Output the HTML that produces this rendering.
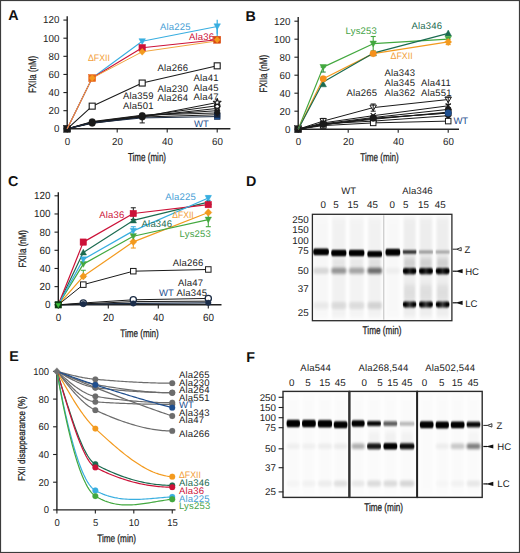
<!DOCTYPE html>
<html><head><meta charset="utf-8"><style>
html,body{margin:0;padding:0;background:#fff;}
body{width:520px;height:553px;overflow:hidden;}
svg{display:block;font-family:"Liberation Sans", sans-serif;text-rendering:geometricPrecision;}
</style></head><body>
<svg width="520" height="553" viewBox="0 0 520 553">
<rect x="0" y="0" width="520" height="553" fill="#fff"/>
<text x="8.30" y="20.20" font-size="14.3" fill="#111" font-weight="bold" >A</text>
<text x="245.50" y="20.50" font-size="14.3" fill="#111" font-weight="bold" >B</text>
<text x="8.00" y="186.20" font-size="14.3" fill="#111" font-weight="bold" >C</text>
<text x="246.00" y="186.20" font-size="14.3" fill="#111" font-weight="bold" >D</text>
<text x="9.30" y="361.20" font-size="14.3" fill="#111" font-weight="bold" >E</text>
<text x="246.30" y="362.20" font-size="14.3" fill="#111" font-weight="bold" >F</text>
<line x1="67.20" y1="16.30" x2="67.20" y2="128.80" stroke="#222" stroke-width="1.4" />
<line x1="63.40" y1="128.80" x2="67.20" y2="128.80" stroke="#222" stroke-width="1.1" />
<text x="59.40" y="132.20" font-size="10.192000000000002" fill="#222" text-anchor="end" textLength="5.44" lengthAdjust="spacingAndGlyphs" >0</text>
<line x1="63.40" y1="110.68" x2="67.20" y2="110.68" stroke="#222" stroke-width="1.1" />
<text x="59.40" y="114.08" font-size="10.192000000000002" fill="#222" text-anchor="end" textLength="10.88" lengthAdjust="spacingAndGlyphs" >20</text>
<line x1="63.40" y1="92.56" x2="67.20" y2="92.56" stroke="#222" stroke-width="1.1" />
<text x="59.40" y="95.96" font-size="10.192000000000002" fill="#222" text-anchor="end" textLength="10.88" lengthAdjust="spacingAndGlyphs" >40</text>
<line x1="63.40" y1="74.44" x2="67.20" y2="74.44" stroke="#222" stroke-width="1.1" />
<text x="59.40" y="77.84" font-size="10.192000000000002" fill="#222" text-anchor="end" textLength="10.88" lengthAdjust="spacingAndGlyphs" >60</text>
<line x1="63.40" y1="56.32" x2="67.20" y2="56.32" stroke="#222" stroke-width="1.1" />
<text x="59.40" y="59.72" font-size="10.192000000000002" fill="#222" text-anchor="end" textLength="10.88" lengthAdjust="spacingAndGlyphs" >80</text>
<line x1="63.40" y1="38.20" x2="67.20" y2="38.20" stroke="#222" stroke-width="1.1" />
<text x="59.40" y="41.60" font-size="10.192000000000002" fill="#222" text-anchor="end" textLength="16.32" lengthAdjust="spacingAndGlyphs" >100</text>
<line x1="63.40" y1="20.08" x2="67.20" y2="20.08" stroke="#222" stroke-width="1.1" />
<text x="59.40" y="23.48" font-size="10.192000000000002" fill="#222" text-anchor="end" textLength="16.32" lengthAdjust="spacingAndGlyphs" >120</text>
<line x1="66.50" y1="128.80" x2="230.40" y2="128.80" stroke="#222" stroke-width="1.4" />
<line x1="67.20" y1="128.80" x2="67.20" y2="132.40" stroke="#222" stroke-width="1.1" />
<text x="67.50" y="144.60" font-size="10.192000000000002" fill="#222" text-anchor="middle" textLength="5.44" lengthAdjust="spacingAndGlyphs" >0</text>
<line x1="117.20" y1="128.80" x2="117.20" y2="132.40" stroke="#222" stroke-width="1.1" />
<text x="117.50" y="144.60" font-size="10.192000000000002" fill="#222" text-anchor="middle" textLength="10.88" lengthAdjust="spacingAndGlyphs" >20</text>
<line x1="167.20" y1="128.80" x2="167.20" y2="132.40" stroke="#222" stroke-width="1.1" />
<text x="167.50" y="144.60" font-size="10.192000000000002" fill="#222" text-anchor="middle" textLength="10.88" lengthAdjust="spacingAndGlyphs" >40</text>
<line x1="217.20" y1="128.80" x2="217.20" y2="132.40" stroke="#222" stroke-width="1.1" />
<text x="217.50" y="144.60" font-size="10.192000000000002" fill="#222" text-anchor="middle" textLength="10.88" lengthAdjust="spacingAndGlyphs" >60</text>
<text x="35.60" y="74.50" font-size="10.8" fill="#1e1e1e" text-anchor="middle" textLength="37.1" lengthAdjust="spacingAndGlyphs" stroke="#1e1e1e" stroke-width="0.28" transform="rotate(-90 35.60 74.50)">FXIIa (nM)</text>
<text x="147.00" y="160.90" font-size="11.6" fill="#1e1e1e" text-anchor="middle" textLength="38.1" lengthAdjust="spacingAndGlyphs" stroke="#1e1e1e" stroke-width="0.28">Time (min)</text>
<polyline points="67.20,128.80 92.20,123.36 142.20,117.02 217.20,102.53" fill="none" stroke="#1a1a1a" stroke-width="1.0" stroke-linejoin="round"/>
<polyline points="67.20,128.80 92.20,122.46 142.20,116.12 217.20,105.70" fill="none" stroke="#1a1a1a" stroke-width="1.0" stroke-linejoin="round"/>
<polyline points="67.20,128.80 92.20,122.91 142.20,116.57 217.20,108.42" fill="none" stroke="#1a1a1a" stroke-width="1.0" stroke-linejoin="round"/>
<polyline points="67.20,128.80 92.20,122.01 142.20,115.66 217.20,110.68" fill="none" stroke="#1a1a1a" stroke-width="1.0" stroke-linejoin="round"/>
<polyline points="67.20,128.80 92.20,121.55 142.20,115.21 217.20,112.95" fill="none" stroke="#1a1a1a" stroke-width="1.0" stroke-linejoin="round"/>
<polyline points="67.20,128.80 92.20,122.46 142.20,117.02 217.20,114.76" fill="none" stroke="#1a1a1a" stroke-width="1.0" stroke-linejoin="round"/>
<polyline points="67.20,128.80 92.20,122.91 142.20,117.93 217.20,116.57" fill="none" stroke="#1c2c44" stroke-width="1.0" stroke-linejoin="round"/>
<circle cx="92.20" cy="123.18" r="3.30" fill="#1a1a1a" stroke="#1a1a1a" stroke-width="0.3"/>
<circle cx="92.20" cy="121.73" r="3.30" fill="#1a1a1a" stroke="#1a1a1a" stroke-width="0.3"/>
<circle cx="142.20" cy="117.02" r="3.30" fill="#1a1a1a" stroke="#1a1a1a" stroke-width="0.3"/>
<circle cx="142.20" cy="115.66" r="3.30" fill="#1a1a1a" stroke="#1a1a1a" stroke-width="0.3"/>
<line x1="142.20" y1="117.02" x2="142.20" y2="122.91" stroke="#1a1a1a" stroke-width="1.0" />
<line x1="139.60" y1="117.02" x2="144.80" y2="117.02" stroke="#1a1a1a" stroke-width="1.0" />
<line x1="139.60" y1="122.91" x2="144.80" y2="122.91" stroke="#1a1a1a" stroke-width="1.0" />
<rect x="214.30" y="113.67" width="5.80" height="5.80" fill="#1f4f8f" stroke="#13294d" stroke-width="0.6"/>
<rect x="214.45" y="112.01" width="5.50" height="5.50" fill="#16233a" stroke="#16233a" stroke-width="0.4"/>
<polygon points="217.20,109.70 220.25,112.95 217.20,116.20 214.15,112.95" fill="#1a1a1a" stroke="#1a1a1a" stroke-width="0.4" stroke-linejoin="round"/>
<circle cx="217.20" cy="110.68" r="2.75" fill="#1a1a1a" stroke="#1a1a1a" stroke-width="0.4"/>
<polygon points="214.50,106.36 219.90,106.36 217.20,111.12" fill="#fff" stroke="#1a1a1a" stroke-width="1.3" stroke-linejoin="round"/>
<circle cx="217.20" cy="105.70" r="2.60" fill="#fff" stroke="#1a1a1a" stroke-width="1.3"/>
<polygon points="217.20,98.53 218.13,101.25 221.00,101.29 218.70,103.01 219.55,105.76 217.20,104.10 214.85,105.76 215.70,103.01 213.40,101.29 216.27,101.25" fill="#fff" stroke="#1a1a1a" stroke-width="1.2" stroke-linejoin="round"/>
<rect x="63.70" y="125.30" width="7.00" height="7.00" fill="#1a1a1a" stroke="#1a1a1a" stroke-width="0.5"/>
<polyline points="67.20,128.80 92.20,106.15 142.20,83.05 217.20,65.83" fill="none" stroke="#1a1a1a" stroke-width="1.1" stroke-linejoin="round"/>
<rect x="89.20" y="103.15" width="6.00" height="6.00" fill="#fff" stroke="#1a1a1a" stroke-width="1.1"/>
<rect x="139.20" y="80.05" width="6.00" height="6.00" fill="#fff" stroke="#1a1a1a" stroke-width="1.1"/>
<rect x="214.20" y="62.83" width="6.00" height="6.00" fill="#fff" stroke="#1a1a1a" stroke-width="1.1"/>
<polyline points="67.20,128.80 92.20,78.06 142.20,41.28 217.20,26.42" fill="none" stroke="#38aee0" stroke-width="1.1" stroke-linejoin="round"/>
<polyline points="67.20,128.80 92.20,78.06 142.20,47.71 217.20,39.74" fill="none" stroke="#cc1238" stroke-width="1.1" stroke-linejoin="round"/>
<polyline points="67.20,128.80 92.20,78.06 142.20,51.79 217.20,40.92" fill="none" stroke="#f2a640" stroke-width="1.0" stroke-linejoin="round"/>
<line x1="217.20" y1="19.63" x2="217.20" y2="33.67" stroke="#38aee0" stroke-width="1.2" />
<line x1="217.20" y1="19.63" x2="217.20" y2="19.63" stroke="#38aee0" stroke-width="1.2" />
<line x1="217.20" y1="33.67" x2="217.20" y2="33.67" stroke="#38aee0" stroke-width="1.2" />
<line x1="217.20" y1="26.42" x2="217.20" y2="40.01" stroke="#38aee0" stroke-width="1.2" />
<polygon points="138.95,38.68 145.45,38.68 142.20,44.53" fill="#38aee0" stroke="#38aee0" stroke-width="0.5" stroke-linejoin="round"/>
<polygon points="213.95,23.82 220.45,23.82 217.20,29.67" fill="#38aee0" stroke="#38aee0" stroke-width="0.5" stroke-linejoin="round"/>
<rect x="138.95" y="44.46" width="6.50" height="6.50" fill="#cc1238" stroke="#cc1238" stroke-width="0.5"/>
<rect x="213.70" y="36.24" width="7.00" height="7.00" fill="#d9480f" stroke="#d9480f" stroke-width="0.5"/>
<polygon points="217.20,36.49 220.25,39.74 217.20,42.99 214.15,39.74" fill="#f39a1e" stroke="#f39a1e" stroke-width="0.3" stroke-linejoin="round"/>
<polygon points="142.20,48.29 145.50,51.79 142.20,55.29 138.90,51.79" fill="#f39a1e" stroke="#f39a1e" stroke-width="0.3" stroke-linejoin="round"/>
<rect x="88.70" y="74.56" width="7.00" height="7.00" fill="#e8661a" stroke="#e8661a" stroke-width="0.5"/>
<polygon points="92.20,74.81 95.25,78.06 92.20,81.31 89.15,78.06" fill="#f39a1e" stroke="#f39a1e" stroke-width="0.3" stroke-linejoin="round"/>
<text x="160.00" y="30.00" font-size="9.5" fill="#47a0d6" letter-spacing="0.18" >Ala225</text>
<text x="189.00" y="39.80" font-size="9.5" fill="#cc1238" letter-spacing="0.18" >Ala36</text>
<text x="88.00" y="60.60" font-size="9.3" fill="#f2a03a" textLength="22.0" lengthAdjust="spacingAndGlyphs" >ΔFXII</text>
<text x="157.50" y="71.00" font-size="9.5" fill="#222" letter-spacing="0.18" >Ala266</text>
<text x="193.50" y="81.40" font-size="9.5" fill="#222" letter-spacing="0.18" >Ala41</text>
<text x="193.50" y="91.10" font-size="9.5" fill="#222" letter-spacing="0.18" >Ala45</text>
<text x="193.50" y="99.70" font-size="9.5" fill="#222" letter-spacing="0.18" >Ala47</text>
<text x="157.50" y="92.00" font-size="9.5" fill="#222" letter-spacing="0.18" >Ala230</text>
<text x="157.50" y="100.70" font-size="9.5" fill="#222" letter-spacing="0.18" >Ala264</text>
<text x="123.00" y="99.40" font-size="9.5" fill="#222" letter-spacing="0.18" >Ala359</text>
<text x="123.00" y="109.20" font-size="9.5" fill="#222" letter-spacing="0.18" >Ala501</text>
<text x="194.00" y="126.70" font-size="9.5" fill="#1f4f8f" >WT</text>
<line x1="298.20" y1="17.00" x2="298.20" y2="129.20" stroke="#222" stroke-width="1.4" />
<line x1="294.40" y1="129.20" x2="298.20" y2="129.20" stroke="#222" stroke-width="1.1" />
<text x="290.40" y="132.60" font-size="10.192000000000002" fill="#222" text-anchor="end" textLength="5.44" lengthAdjust="spacingAndGlyphs" >0</text>
<line x1="294.40" y1="111.20" x2="298.20" y2="111.20" stroke="#222" stroke-width="1.1" />
<text x="290.40" y="114.60" font-size="10.192000000000002" fill="#222" text-anchor="end" textLength="10.88" lengthAdjust="spacingAndGlyphs" >20</text>
<line x1="294.40" y1="93.20" x2="298.20" y2="93.20" stroke="#222" stroke-width="1.1" />
<text x="290.40" y="96.60" font-size="10.192000000000002" fill="#222" text-anchor="end" textLength="10.88" lengthAdjust="spacingAndGlyphs" >40</text>
<line x1="294.40" y1="75.20" x2="298.20" y2="75.20" stroke="#222" stroke-width="1.1" />
<text x="290.40" y="78.60" font-size="10.192000000000002" fill="#222" text-anchor="end" textLength="10.88" lengthAdjust="spacingAndGlyphs" >60</text>
<line x1="294.40" y1="57.20" x2="298.20" y2="57.20" stroke="#222" stroke-width="1.1" />
<text x="290.40" y="60.60" font-size="10.192000000000002" fill="#222" text-anchor="end" textLength="10.88" lengthAdjust="spacingAndGlyphs" >80</text>
<line x1="294.40" y1="39.20" x2="298.20" y2="39.20" stroke="#222" stroke-width="1.1" />
<text x="290.40" y="42.60" font-size="10.192000000000002" fill="#222" text-anchor="end" textLength="16.32" lengthAdjust="spacingAndGlyphs" >100</text>
<line x1="294.40" y1="21.20" x2="298.20" y2="21.20" stroke="#222" stroke-width="1.1" />
<text x="290.40" y="24.60" font-size="10.192000000000002" fill="#222" text-anchor="end" textLength="16.32" lengthAdjust="spacingAndGlyphs" >120</text>
<line x1="297.50" y1="129.20" x2="459.00" y2="129.20" stroke="#222" stroke-width="1.4" />
<line x1="298.20" y1="129.20" x2="298.20" y2="132.80" stroke="#222" stroke-width="1.1" />
<text x="298.50" y="145.00" font-size="10.192000000000002" fill="#222" text-anchor="middle" textLength="5.44" lengthAdjust="spacingAndGlyphs" >0</text>
<line x1="348.20" y1="129.20" x2="348.20" y2="132.80" stroke="#222" stroke-width="1.1" />
<text x="348.50" y="145.00" font-size="10.192000000000002" fill="#222" text-anchor="middle" textLength="10.88" lengthAdjust="spacingAndGlyphs" >20</text>
<line x1="398.20" y1="129.20" x2="398.20" y2="132.80" stroke="#222" stroke-width="1.1" />
<text x="398.50" y="145.00" font-size="10.192000000000002" fill="#222" text-anchor="middle" textLength="10.88" lengthAdjust="spacingAndGlyphs" >40</text>
<line x1="448.20" y1="129.20" x2="448.20" y2="132.80" stroke="#222" stroke-width="1.1" />
<text x="448.50" y="145.00" font-size="10.192000000000002" fill="#222" text-anchor="middle" textLength="10.88" lengthAdjust="spacingAndGlyphs" >60</text>
<text x="267.50" y="73.70" font-size="10.8" fill="#1e1e1e" text-anchor="middle" textLength="37.5" lengthAdjust="spacingAndGlyphs" stroke="#1e1e1e" stroke-width="0.28" transform="rotate(-90 267.50 73.70)">FXIIa (nM)</text>
<text x="379.50" y="160.90" font-size="11.4" fill="#1e1e1e" text-anchor="middle" textLength="38.3" lengthAdjust="spacingAndGlyphs" stroke="#1e1e1e" stroke-width="0.28">Time (min)</text>
<polyline points="298.20,129.20 323.20,121.10 373.20,107.60 448.20,99.50" fill="none" stroke="#1a1a1a" stroke-width="1.0" stroke-linejoin="round"/>
<polyline points="298.20,129.20 323.20,122.90 373.20,115.70 448.20,105.80" fill="none" stroke="#1a1a1a" stroke-width="1.0" stroke-linejoin="round"/>
<polyline points="298.20,129.20 323.20,123.80 373.20,117.50 448.20,109.40" fill="none" stroke="#1a1a1a" stroke-width="1.0" stroke-linejoin="round"/>
<polyline points="298.20,129.20 323.20,124.70 373.20,119.30 448.20,112.10" fill="none" stroke="#1a1a1a" stroke-width="1.0" stroke-linejoin="round"/>
<polyline points="298.20,129.20 323.20,123.80 373.20,121.10 448.20,115.70" fill="none" stroke="#1a1a1a" stroke-width="1.0" stroke-linejoin="round"/>
<polyline points="298.20,129.20 323.20,125.60 373.20,122.90 448.20,121.10" fill="none" stroke="#1a1a1a" stroke-width="1.0" stroke-linejoin="round"/>
<polyline points="298.20,129.20 323.20,124.70 373.20,118.40 448.20,113.00" fill="none" stroke="#1a1a1a" stroke-width="1.0" stroke-linejoin="round"/>
<polygon points="319.95,118.60 326.45,118.60 323.20,124.35" fill="#fff" stroke="#1a1a1a" stroke-width="1.0" stroke-linejoin="round"/>
<polygon points="369.95,105.10 376.45,105.10 373.20,110.85" fill="#fff" stroke="#1a1a1a" stroke-width="1.0" stroke-linejoin="round"/>
<polygon points="444.95,97.00 451.45,97.00 448.20,102.75" fill="#fff" stroke="#1a1a1a" stroke-width="1.0" stroke-linejoin="round"/>
<line x1="320.70" y1="120.40" x2="325.70" y2="125.40" stroke="#1a1a1a" stroke-width="1.2" />
<line x1="320.70" y1="125.40" x2="325.70" y2="120.40" stroke="#1a1a1a" stroke-width="1.2" />
<line x1="370.70" y1="113.20" x2="375.70" y2="118.20" stroke="#1a1a1a" stroke-width="1.2" />
<line x1="370.70" y1="118.20" x2="375.70" y2="113.20" stroke="#1a1a1a" stroke-width="1.2" />
<line x1="445.70" y1="103.30" x2="450.70" y2="108.30" stroke="#1a1a1a" stroke-width="1.2" />
<line x1="445.70" y1="108.30" x2="450.70" y2="103.30" stroke="#1a1a1a" stroke-width="1.2" />
<circle cx="323.20" cy="123.80" r="3.00" fill="#1a1a1a" stroke="#1a1a1a" stroke-width="0.5"/>
<circle cx="373.20" cy="117.50" r="3.00" fill="#1a1a1a" stroke="#1a1a1a" stroke-width="0.5"/>
<circle cx="448.20" cy="109.40" r="3.00" fill="#1a1a1a" stroke="#1a1a1a" stroke-width="0.5"/>
<rect x="320.20" y="121.70" width="6.00" height="6.00" fill="#1a1a1a" stroke="#1a1a1a" stroke-width="0.5"/>
<rect x="370.20" y="116.30" width="6.00" height="6.00" fill="#1a1a1a" stroke="#1a1a1a" stroke-width="0.5"/>
<rect x="445.20" y="109.10" width="6.00" height="6.00" fill="#1a1a1a" stroke="#1a1a1a" stroke-width="0.5"/>
<polygon points="323.20,120.30 326.50,123.80 323.20,127.30 319.90,123.80" fill="#1a1a1a" stroke="#1a1a1a" stroke-width="0.5" stroke-linejoin="round"/>
<polygon points="373.20,117.60 376.50,121.10 373.20,124.60 369.90,121.10" fill="#1a1a1a" stroke="#1a1a1a" stroke-width="0.5" stroke-linejoin="round"/>
<polygon points="448.20,112.20 451.50,115.70 448.20,119.20 444.90,115.70" fill="#1a1a1a" stroke="#1a1a1a" stroke-width="0.5" stroke-linejoin="round"/>
<rect x="320.45" y="122.85" width="5.50" height="5.50" fill="#fff" stroke="#1a1a1a" stroke-width="1.0"/>
<rect x="370.45" y="120.15" width="5.50" height="5.50" fill="#fff" stroke="#1a1a1a" stroke-width="1.0"/>
<rect x="445.45" y="118.35" width="5.50" height="5.50" fill="#fff" stroke="#1a1a1a" stroke-width="1.0"/>
<circle cx="323.20" cy="124.70" r="3.00" fill="#1a1a1a" stroke="#1a1a1a" stroke-width="0.5"/>
<circle cx="373.20" cy="118.40" r="3.00" fill="#1a1a1a" stroke="#1a1a1a" stroke-width="0.5"/>
<circle cx="448.20" cy="113.00" r="3.00" fill="#1a1a1a" stroke="#1a1a1a" stroke-width="0.5"/>
<line x1="323.20" y1="118.40" x2="323.20" y2="123.80" stroke="#1a1a1a" stroke-width="1.0" />
<line x1="320.70" y1="118.40" x2="325.70" y2="118.40" stroke="#1a1a1a" stroke-width="1.0" />
<line x1="320.70" y1="123.80" x2="325.70" y2="123.80" stroke="#1a1a1a" stroke-width="1.0" />
<line x1="373.20" y1="104.00" x2="373.20" y2="111.20" stroke="#1a1a1a" stroke-width="1.0" />
<line x1="370.70" y1="104.00" x2="375.70" y2="104.00" stroke="#1a1a1a" stroke-width="1.0" />
<line x1="370.70" y1="111.20" x2="375.70" y2="111.20" stroke="#1a1a1a" stroke-width="1.0" />
<line x1="448.20" y1="97.25" x2="448.20" y2="104.45" stroke="#1a1a1a" stroke-width="1.0" />
<line x1="445.70" y1="97.25" x2="450.70" y2="97.25" stroke="#1a1a1a" stroke-width="1.0" />
<line x1="445.70" y1="104.45" x2="450.70" y2="104.45" stroke="#1a1a1a" stroke-width="1.0" />
<polyline points="298.20,129.20 323.20,124.70 373.20,118.40 448.20,113.00" fill="none" stroke="#1a1a1a" stroke-width="1.0" stroke-linejoin="round"/>
<circle cx="448.20" cy="113.00" r="3.25" fill="#1f4f8f" stroke="#1f4f8f" stroke-width="0.5"/>
<rect x="294.70" y="125.70" width="7.00" height="7.00" fill="#1a1a1a" stroke="#1a1a1a" stroke-width="0.5"/>
<polyline points="298.20,129.20 323.20,67.10 373.20,43.70 448.20,39.20" fill="none" stroke="#43a83f" stroke-width="1.2" stroke-linejoin="round"/>
<polyline points="298.20,129.20 323.20,78.80 373.20,53.60 448.20,41.90" fill="none" stroke="#f39a1e" stroke-width="1.2" stroke-linejoin="round"/>
<polyline points="298.20,129.20 323.20,81.95 373.20,53.15 448.20,33.35" fill="none" stroke="#1b6b50" stroke-width="1.2" stroke-linejoin="round"/>
<line x1="373.20" y1="36.50" x2="373.20" y2="50.90" stroke="#43a83f" stroke-width="1.1" />
<line x1="370.70" y1="36.50" x2="375.70" y2="36.50" stroke="#43a83f" stroke-width="1.1" />
<line x1="370.70" y1="50.90" x2="375.70" y2="50.90" stroke="#43a83f" stroke-width="1.1" />
<line x1="323.20" y1="67.10" x2="323.20" y2="72.05" stroke="#2f8a45" stroke-width="1.1" />
<line x1="320.70" y1="67.10" x2="325.70" y2="67.10" stroke="#2f8a45" stroke-width="1.1" />
<line x1="320.70" y1="72.05" x2="325.70" y2="72.05" stroke="#2f8a45" stroke-width="1.1" />
<line x1="448.20" y1="39.65" x2="448.20" y2="44.60" stroke="#f39a1e" stroke-width="1.1" />
<line x1="445.70" y1="39.65" x2="450.70" y2="39.65" stroke="#f39a1e" stroke-width="1.1" />
<line x1="445.70" y1="44.60" x2="450.70" y2="44.60" stroke="#f39a1e" stroke-width="1.1" />
<polygon points="319.95,86.80 326.45,86.80 323.20,80.95" fill="#1b6b50" stroke="#1b6b50" stroke-width="0.5" stroke-linejoin="round"/>
<polygon points="369.95,55.75 376.45,55.75 373.20,49.90" fill="#1b6b50" stroke="#1b6b50" stroke-width="0.5" stroke-linejoin="round"/>
<polygon points="444.95,35.95 451.45,35.95 448.20,30.10" fill="#1b6b50" stroke="#1b6b50" stroke-width="0.5" stroke-linejoin="round"/>
<polygon points="319.95,64.50 326.45,64.50 323.20,70.35" fill="#43a83f" stroke="#43a83f" stroke-width="0.5" stroke-linejoin="round"/>
<polygon points="369.95,41.10 376.45,41.10 373.20,46.95" fill="#43a83f" stroke="#43a83f" stroke-width="0.5" stroke-linejoin="round"/>
<polygon points="444.95,36.15 451.45,36.15 448.20,42.00" fill="#43a83f" stroke="#43a83f" stroke-width="0.5" stroke-linejoin="round"/>
<circle cx="323.20" cy="78.80" r="3.30" fill="#f5901c" stroke="#f5901c" stroke-width="0.3"/>
<circle cx="373.20" cy="53.60" r="3.30" fill="#f5901c" stroke="#f5901c" stroke-width="0.3"/>
<polygon points="448.20,38.15 451.75,41.90 448.20,45.65 444.65,41.90" fill="#f39a1e" stroke="#f39a1e" stroke-width="0.3" stroke-linejoin="round"/>
<text x="345.60" y="34.30" font-size="9.5" fill="#46a348" letter-spacing="0.18" >Lys253</text>
<text x="411.50" y="29.10" font-size="9.5" fill="#1b6b50" letter-spacing="0.18" >Ala346</text>
<text x="390.60" y="58.90" font-size="9.3" fill="#f2a03a" textLength="22.0" lengthAdjust="spacingAndGlyphs" >ΔFXII</text>
<text x="384.50" y="75.80" font-size="9.5" fill="#222" letter-spacing="0.18" >Ala343</text>
<text x="384.50" y="86.20" font-size="9.5" fill="#222" letter-spacing="0.18" >Ala345</text>
<text x="384.50" y="95.50" font-size="9.5" fill="#222" letter-spacing="0.18" >Ala362</text>
<text x="421.00" y="85.50" font-size="9.5" fill="#222" letter-spacing="0.18" >Ala411</text>
<text x="421.00" y="95.50" font-size="9.5" fill="#222" letter-spacing="0.18" >Ala551</text>
<text x="346.50" y="95.50" font-size="9.5" fill="#222" letter-spacing="0.18" >Ala265</text>
<text x="453.40" y="123.90" font-size="9.5" fill="#1f4f8f" >WT</text>
<line x1="58.30" y1="192.20" x2="58.30" y2="304.80" stroke="#222" stroke-width="1.4" />
<line x1="54.50" y1="304.80" x2="58.30" y2="304.80" stroke="#222" stroke-width="1.1" />
<text x="50.50" y="308.20" font-size="10.296000000000001" fill="#222" text-anchor="end" textLength="5.5" lengthAdjust="spacingAndGlyphs" >0</text>
<line x1="54.50" y1="286.63" x2="58.30" y2="286.63" stroke="#222" stroke-width="1.1" />
<text x="50.50" y="290.03" font-size="10.296000000000001" fill="#222" text-anchor="end" textLength="10.99" lengthAdjust="spacingAndGlyphs" >20</text>
<line x1="54.50" y1="268.47" x2="58.30" y2="268.47" stroke="#222" stroke-width="1.1" />
<text x="50.50" y="271.87" font-size="10.296000000000001" fill="#222" text-anchor="end" textLength="10.99" lengthAdjust="spacingAndGlyphs" >40</text>
<line x1="54.50" y1="250.30" x2="58.30" y2="250.30" stroke="#222" stroke-width="1.1" />
<text x="50.50" y="253.70" font-size="10.296000000000001" fill="#222" text-anchor="end" textLength="10.99" lengthAdjust="spacingAndGlyphs" >60</text>
<line x1="54.50" y1="232.14" x2="58.30" y2="232.14" stroke="#222" stroke-width="1.1" />
<text x="50.50" y="235.54" font-size="10.296000000000001" fill="#222" text-anchor="end" textLength="10.99" lengthAdjust="spacingAndGlyphs" >80</text>
<line x1="54.50" y1="213.97" x2="58.30" y2="213.97" stroke="#222" stroke-width="1.1" />
<text x="50.50" y="217.37" font-size="10.296000000000001" fill="#222" text-anchor="end" textLength="16.49" lengthAdjust="spacingAndGlyphs" >100</text>
<line x1="54.50" y1="195.80" x2="58.30" y2="195.80" stroke="#222" stroke-width="1.1" />
<text x="50.50" y="199.20" font-size="10.296000000000001" fill="#222" text-anchor="end" textLength="16.49" lengthAdjust="spacingAndGlyphs" >120</text>
<line x1="57.60" y1="304.80" x2="221.50" y2="304.80" stroke="#222" stroke-width="1.4" />
<line x1="58.30" y1="304.80" x2="58.30" y2="308.40" stroke="#222" stroke-width="1.1" />
<text x="58.60" y="320.60" font-size="10.296000000000001" fill="#222" text-anchor="middle" textLength="5.5" lengthAdjust="spacingAndGlyphs" >0</text>
<line x1="108.30" y1="304.80" x2="108.30" y2="308.40" stroke="#222" stroke-width="1.1" />
<text x="108.60" y="320.60" font-size="10.296000000000001" fill="#222" text-anchor="middle" textLength="10.99" lengthAdjust="spacingAndGlyphs" >20</text>
<line x1="158.30" y1="304.80" x2="158.30" y2="308.40" stroke="#222" stroke-width="1.1" />
<text x="158.60" y="320.60" font-size="10.296000000000001" fill="#222" text-anchor="middle" textLength="10.99" lengthAdjust="spacingAndGlyphs" >40</text>
<line x1="208.30" y1="304.80" x2="208.30" y2="308.40" stroke="#222" stroke-width="1.1" />
<text x="208.60" y="320.60" font-size="10.296000000000001" fill="#222" text-anchor="middle" textLength="10.99" lengthAdjust="spacingAndGlyphs" >60</text>
<text x="26.10" y="248.80" font-size="10.6" fill="#1e1e1e" text-anchor="middle" textLength="37.5" lengthAdjust="spacingAndGlyphs" stroke="#1e1e1e" stroke-width="0.28" transform="rotate(-90 26.10 248.80)">FXIIa (nM)</text>
<text x="139.50" y="336.80" font-size="11.0" fill="#1e1e1e" text-anchor="middle" textLength="38.3" lengthAdjust="spacingAndGlyphs" stroke="#1e1e1e" stroke-width="0.28">Time (min)</text>
<polyline points="58.30,304.80 83.30,304.07 133.30,303.44 208.30,302.80" fill="none" stroke="#1c2c44" stroke-width="1.3" stroke-linejoin="round"/>
<polyline points="58.30,304.80 83.30,302.98 133.30,299.80 208.30,298.44" fill="none" stroke="#1a1a1a" stroke-width="1.0" stroke-linejoin="round"/>
<polyline points="58.30,304.80 83.30,303.89 133.30,301.62 208.30,301.17" fill="none" stroke="#1a1a1a" stroke-width="1.0" stroke-linejoin="round"/>
<circle cx="83.30" cy="302.98" r="3.10" fill="#fff" stroke="#1c2c44" stroke-width="1.3"/>
<circle cx="133.30" cy="299.80" r="3.10" fill="#fff" stroke="#1c2c44" stroke-width="1.3"/>
<circle cx="208.30" cy="298.44" r="3.10" fill="#fff" stroke="#1c2c44" stroke-width="1.3"/>
<circle cx="83.30" cy="304.07" r="2.75" fill="#1b2d4a" stroke="#1b2d4a" stroke-width="0.5"/>
<circle cx="133.30" cy="303.44" r="2.75" fill="#1b2d4a" stroke="#1b2d4a" stroke-width="0.5"/>
<circle cx="208.30" cy="302.80" r="2.75" fill="#1b2d4a" stroke="#1b2d4a" stroke-width="0.5"/>
<polyline points="58.30,304.80 83.30,284.64 133.30,271.19 208.30,269.47" fill="none" stroke="#1a1a1a" stroke-width="1.0" stroke-linejoin="round"/>
<rect x="80.55" y="281.89" width="5.50" height="5.50" fill="#fff" stroke="#1a1a1a" stroke-width="1.0"/>
<rect x="130.55" y="268.44" width="5.50" height="5.50" fill="#fff" stroke="#1a1a1a" stroke-width="1.0"/>
<rect x="205.55" y="266.72" width="5.50" height="5.50" fill="#fff" stroke="#1a1a1a" stroke-width="1.0"/>
<polyline points="58.30,304.80 83.30,276.28 133.30,241.85 208.30,212.52" fill="none" stroke="#f39a1e" stroke-width="1.2" stroke-linejoin="round"/>
<polyline points="58.30,304.80 83.30,264.11 133.30,236.22 208.30,219.69" fill="none" stroke="#43a83f" stroke-width="1.2" stroke-linejoin="round"/>
<polyline points="58.30,304.80 83.30,252.39 133.30,220.42 208.30,202.16" fill="none" stroke="#1b6b50" stroke-width="1.2" stroke-linejoin="round"/>
<polyline points="58.30,304.80 83.30,242.13 133.30,213.52 208.30,204.61" fill="none" stroke="#cc1238" stroke-width="1.2" stroke-linejoin="round"/>
<polyline points="58.30,304.80 83.30,259.38 133.30,230.86 208.30,197.98" fill="none" stroke="#38aee0" stroke-width="1.2" stroke-linejoin="round"/>
<line x1="133.30" y1="235.77" x2="133.30" y2="248.03" stroke="#f39a1e" stroke-width="1.1" />
<line x1="130.80" y1="235.77" x2="135.80" y2="235.77" stroke="#f39a1e" stroke-width="1.1" />
<line x1="130.80" y1="248.03" x2="135.80" y2="248.03" stroke="#f39a1e" stroke-width="1.1" />
<line x1="208.30" y1="213.06" x2="208.30" y2="226.69" stroke="#43a83f" stroke-width="1.1" />
<line x1="205.80" y1="213.06" x2="210.80" y2="213.06" stroke="#43a83f" stroke-width="1.1" />
<line x1="205.80" y1="226.69" x2="210.80" y2="226.69" stroke="#43a83f" stroke-width="1.1" />
<line x1="133.30" y1="207.79" x2="133.30" y2="219.42" stroke="#1a1a1a" stroke-width="1.0" />
<line x1="130.80" y1="207.79" x2="135.80" y2="207.79" stroke="#1a1a1a" stroke-width="1.0" />
<line x1="130.80" y1="219.42" x2="135.80" y2="219.42" stroke="#1a1a1a" stroke-width="1.0" />
<line x1="133.30" y1="226.69" x2="133.30" y2="234.86" stroke="#38aee0" stroke-width="1.0" />
<line x1="130.80" y1="226.69" x2="135.80" y2="226.69" stroke="#38aee0" stroke-width="1.0" />
<line x1="130.80" y1="234.86" x2="135.80" y2="234.86" stroke="#38aee0" stroke-width="1.0" />
<line x1="83.30" y1="270.28" x2="83.30" y2="277.55" stroke="#43a83f" stroke-width="1.0" />
<line x1="80.80" y1="270.28" x2="85.80" y2="270.28" stroke="#43a83f" stroke-width="1.0" />
<line x1="80.80" y1="277.55" x2="85.80" y2="277.55" stroke="#43a83f" stroke-width="1.0" />
<line x1="208.30" y1="195.80" x2="208.30" y2="200.35" stroke="#38aee0" stroke-width="1.0" />
<line x1="205.80" y1="195.80" x2="210.80" y2="195.80" stroke="#38aee0" stroke-width="1.0" />
<line x1="205.80" y1="200.35" x2="210.80" y2="200.35" stroke="#38aee0" stroke-width="1.0" />
<polygon points="83.30,272.53 86.85,276.28 83.30,280.03 79.75,276.28" fill="#f39a1e" stroke="#f39a1e" stroke-width="0.4" stroke-linejoin="round"/>
<polygon points="133.30,238.10 136.85,241.85 133.30,245.60 129.75,241.85" fill="#f39a1e" stroke="#f39a1e" stroke-width="0.4" stroke-linejoin="round"/>
<polygon points="208.30,208.77 211.85,212.52 208.30,216.27 204.75,212.52" fill="#f39a1e" stroke="#f39a1e" stroke-width="0.4" stroke-linejoin="round"/>
<polygon points="80.05,261.51 86.55,261.51 83.30,267.36" fill="#43a83f" stroke="#43a83f" stroke-width="0.4" stroke-linejoin="round"/>
<polygon points="130.05,233.62 136.55,233.62 133.30,239.47" fill="#43a83f" stroke="#43a83f" stroke-width="0.4" stroke-linejoin="round"/>
<polygon points="205.05,217.09 211.55,217.09 208.30,222.94" fill="#43a83f" stroke="#43a83f" stroke-width="0.4" stroke-linejoin="round"/>
<polygon points="80.05,254.99 86.55,254.99 83.30,249.14" fill="#1b6b50" stroke="#1b6b50" stroke-width="0.4" stroke-linejoin="round"/>
<polygon points="130.05,223.02 136.55,223.02 133.30,217.17" fill="#1b6b50" stroke="#1b6b50" stroke-width="0.4" stroke-linejoin="round"/>
<polygon points="205.05,204.76 211.55,204.76 208.30,198.91" fill="#1b6b50" stroke="#1b6b50" stroke-width="0.4" stroke-linejoin="round"/>
<rect x="80.05" y="238.88" width="6.50" height="6.50" fill="#cc1238" stroke="#cc1238" stroke-width="0.4"/>
<rect x="130.05" y="210.27" width="6.50" height="6.50" fill="#cc1238" stroke="#cc1238" stroke-width="0.4"/>
<rect x="205.05" y="201.36" width="6.50" height="6.50" fill="#cc1238" stroke="#cc1238" stroke-width="0.4"/>
<polygon points="80.05,256.78 86.55,256.78 83.30,262.63" fill="#38aee0" stroke="#38aee0" stroke-width="0.4" stroke-linejoin="round"/>
<polygon points="130.05,228.26 136.55,228.26 133.30,234.11" fill="#38aee0" stroke="#38aee0" stroke-width="0.4" stroke-linejoin="round"/>
<polygon points="205.05,195.38 211.55,195.38 208.30,201.23" fill="#38aee0" stroke="#38aee0" stroke-width="0.4" stroke-linejoin="round"/>
<polygon points="54.80,302.00 61.80,302.00 58.30,308.30" fill="#1a7a2a" stroke="#0b3b12" stroke-width="0.6" stroke-linejoin="round"/>
<rect x="54.80" y="301.30" width="7" height="7" fill="#0d3a10"/>
<polygon points="55.80,303.30 60.80,303.30 58.30,307.80" fill="#3bbf3b" stroke="#3bbf3b" stroke-width="0.2" stroke-linejoin="round"/>
<text x="165.30" y="200.40" font-size="9.5" fill="#47a0d6" letter-spacing="0.18" >Ala225</text>
<text x="99.30" y="218.40" font-size="9.5" fill="#cc1238" letter-spacing="0.18" >Ala36</text>
<text x="172.20" y="218.40" font-size="9.3" fill="#f2a03a" textLength="21.5" lengthAdjust="spacingAndGlyphs" >ΔFXII</text>
<text x="141.60" y="226.90" font-size="9.5" fill="#1b6b50" letter-spacing="0.18" >Ala346</text>
<text x="179.60" y="237.40" font-size="9.5" fill="#46a348" letter-spacing="0.18" >Lys253</text>
<text x="172.70" y="266.20" font-size="9.5" fill="#222" letter-spacing="0.18" >Ala266</text>
<text x="178.00" y="286.30" font-size="9.5" fill="#222" letter-spacing="0.18" >Ala47</text>
<text x="159.00" y="296.40" font-size="9.5" fill="#1f4f8f" >WT</text>
<text x="176.50" y="296.40" font-size="9.5" fill="#222" letter-spacing="0.18" >Ala345</text>
<line x1="56.90" y1="371.50" x2="56.90" y2="509.90" stroke="#222" stroke-width="1.4" />
<line x1="53.10" y1="509.90" x2="56.90" y2="509.90" stroke="#222" stroke-width="1.1" />
<text x="49.10" y="513.30" font-size="9.88" fill="#222" text-anchor="end" textLength="5.27" lengthAdjust="spacingAndGlyphs" >0</text>
<line x1="53.10" y1="482.20" x2="56.90" y2="482.20" stroke="#222" stroke-width="1.1" />
<text x="49.10" y="485.60" font-size="9.88" fill="#222" text-anchor="end" textLength="10.55" lengthAdjust="spacingAndGlyphs" >20</text>
<line x1="53.10" y1="454.50" x2="56.90" y2="454.50" stroke="#222" stroke-width="1.1" />
<text x="49.10" y="457.90" font-size="9.88" fill="#222" text-anchor="end" textLength="10.55" lengthAdjust="spacingAndGlyphs" >40</text>
<line x1="53.10" y1="426.80" x2="56.90" y2="426.80" stroke="#222" stroke-width="1.1" />
<text x="49.10" y="430.20" font-size="9.88" fill="#222" text-anchor="end" textLength="10.55" lengthAdjust="spacingAndGlyphs" >60</text>
<line x1="53.10" y1="399.10" x2="56.90" y2="399.10" stroke="#222" stroke-width="1.1" />
<text x="49.10" y="402.50" font-size="9.88" fill="#222" text-anchor="end" textLength="10.55" lengthAdjust="spacingAndGlyphs" >80</text>
<line x1="53.10" y1="371.40" x2="56.90" y2="371.40" stroke="#222" stroke-width="1.1" />
<text x="49.10" y="374.80" font-size="9.88" fill="#222" text-anchor="end" textLength="15.82" lengthAdjust="spacingAndGlyphs" >100</text>
<line x1="56.20" y1="509.90" x2="175.50" y2="509.90" stroke="#222" stroke-width="1.4" />
<line x1="56.90" y1="509.90" x2="56.90" y2="513.50" stroke="#222" stroke-width="1.1" />
<text x="57.20" y="525.70" font-size="9.88" fill="#222" text-anchor="middle" textLength="5.27" lengthAdjust="spacingAndGlyphs" >0</text>
<line x1="95.35" y1="509.90" x2="95.35" y2="513.50" stroke="#222" stroke-width="1.1" />
<text x="95.65" y="525.70" font-size="9.88" fill="#222" text-anchor="middle" textLength="5.27" lengthAdjust="spacingAndGlyphs" >5</text>
<line x1="133.80" y1="509.90" x2="133.80" y2="513.50" stroke="#222" stroke-width="1.1" />
<text x="134.10" y="525.70" font-size="9.88" fill="#222" text-anchor="middle" textLength="10.55" lengthAdjust="spacingAndGlyphs" >10</text>
<line x1="172.25" y1="509.90" x2="172.25" y2="513.50" stroke="#222" stroke-width="1.1" />
<text x="172.55" y="525.70" font-size="9.88" fill="#222" text-anchor="middle" textLength="10.55" lengthAdjust="spacingAndGlyphs" >15</text>
<text x="24.60" y="438.70" font-size="9.9" fill="#1e1e1e" text-anchor="middle" textLength="84.7" lengthAdjust="spacingAndGlyphs" stroke="#1e1e1e" stroke-width="0.28" transform="rotate(-90 24.60 438.70)">FXII disappearance (%)</text>
<text x="116.60" y="541.50" font-size="10.8" fill="#1e1e1e" text-anchor="middle" textLength="38.8" lengthAdjust="spacingAndGlyphs" stroke="#1e1e1e" stroke-width="0.28">Time (min)</text>
<polyline points="56.90,371.40 57.86,371.65 58.82,371.90 59.78,372.14 60.74,372.39 61.71,372.64 62.67,372.89 63.63,373.13 64.59,373.38 65.55,373.62 66.51,373.87 67.47,374.11 68.44,374.35 69.40,374.58 70.36,374.82 71.32,375.05 72.28,375.28 73.24,375.51 74.20,375.73 75.16,375.95 76.12,376.16 77.09,376.38 78.05,376.58 79.01,376.79 79.97,376.98 80.93,377.18 81.89,377.36 82.85,377.55 83.81,377.72 84.78,377.89 85.74,378.05 86.70,378.21 87.66,378.36 88.62,378.51 89.58,378.64 90.54,378.77 91.50,378.89 92.47,379.01 93.43,379.11 94.39,379.21 95.35,379.29 97.27,379.46 99.19,379.62 101.12,379.79 103.04,379.94 104.96,380.10 106.88,380.25 108.81,380.40 110.73,380.55 112.65,380.70 114.58,380.84 116.50,380.98 118.42,381.11 120.34,381.25 122.27,381.37 124.19,381.50 126.11,381.62 128.03,381.74 129.96,381.85 131.88,381.96 133.80,382.07 135.72,382.17 137.65,382.27 139.57,382.36 141.49,382.45 143.41,382.53 145.34,382.61 147.26,382.69 149.18,382.76 151.10,382.82 153.03,382.88 154.95,382.93 156.87,382.98 158.79,383.03 160.72,383.06 162.64,383.10 164.56,383.12 166.48,383.15 168.41,383.16 170.33,383.17 172.25,383.17" fill="none" stroke="#6c6c6c" stroke-width="1.2" stroke-linejoin="round"/>
<polyline points="56.90,371.40 57.86,371.80 58.82,372.21 59.78,372.61 60.74,373.02 61.71,373.42 62.67,373.83 63.63,374.23 64.59,374.63 65.55,375.03 66.51,375.42 67.47,375.81 68.44,376.20 69.40,376.59 70.36,376.97 71.32,377.35 72.28,377.73 73.24,378.10 74.20,378.46 75.16,378.82 76.12,379.17 77.09,379.52 78.05,379.86 79.01,380.20 79.97,380.53 80.93,380.85 81.89,381.16 82.85,381.46 83.81,381.76 84.78,382.05 85.74,382.33 86.70,382.60 87.66,382.86 88.62,383.11 89.58,383.35 90.54,383.58 91.50,383.80 92.47,384.01 93.43,384.20 94.39,384.39 95.35,384.56 97.27,384.89 99.19,385.21 101.12,385.54 103.04,385.86 104.96,386.18 106.88,386.49 108.81,386.80 110.73,387.10 112.65,387.40 114.58,387.70 116.50,387.99 118.42,388.27 120.34,388.55 122.27,388.82 124.19,389.08 126.11,389.34 128.03,389.59 129.96,389.84 131.88,390.07 133.80,390.30 135.72,390.52 137.65,390.73 139.57,390.93 141.49,391.12 143.41,391.31 145.34,391.48 147.26,391.64 149.18,391.80 151.10,391.94 153.03,392.07 154.95,392.19 156.87,392.30 158.79,392.40 160.72,392.49 162.64,392.56 164.56,392.62 166.48,392.67 168.41,392.70 170.33,392.72 172.25,392.73" fill="none" stroke="#6c6c6c" stroke-width="1.2" stroke-linejoin="round"/>
<polyline points="56.90,371.40 57.86,371.92 58.82,372.44 59.78,372.97 60.74,373.49 61.71,374.02 62.67,374.54 63.63,375.07 64.59,375.59 65.55,376.11 66.51,376.62 67.47,377.14 68.44,377.65 69.40,378.15 70.36,378.65 71.32,379.14 72.28,379.63 73.24,380.11 74.20,380.58 75.16,381.04 76.12,381.49 77.09,381.94 78.05,382.37 79.01,382.79 79.97,383.20 80.93,383.60 81.89,383.98 82.85,384.35 83.81,384.70 84.78,385.04 85.74,385.37 86.70,385.68 87.66,385.97 88.62,386.24 89.58,386.50 90.54,386.73 91.50,386.95 92.47,387.14 93.43,387.32 94.39,387.47 95.35,387.60 97.27,387.84 99.19,388.08 101.12,388.30 103.04,388.53 104.96,388.75 106.88,388.96 108.81,389.17 110.73,389.37 112.65,389.57 114.58,389.76 116.50,389.95 118.42,390.13 120.34,390.30 122.27,390.47 124.19,390.64 126.11,390.79 128.03,390.95 129.96,391.09 131.88,391.24 133.80,391.37 135.72,391.50 137.65,391.62 139.57,391.74 141.49,391.85 143.41,391.95 145.34,392.05 147.26,392.14 149.18,392.23 151.10,392.31 153.03,392.38 154.95,392.45 156.87,392.50 158.79,392.56 160.72,392.60 162.64,392.64 164.56,392.67 166.48,392.70 168.41,392.71 170.33,392.73 172.25,392.73" fill="none" stroke="#6c6c6c" stroke-width="1.2" stroke-linejoin="round"/>
<polyline points="56.90,371.40 57.86,371.82 58.82,372.24 59.78,372.66 60.74,373.08 61.71,373.50 62.67,373.92 63.63,374.34 64.59,374.76 65.55,375.17 66.51,375.59 67.47,376.01 68.44,376.42 69.40,376.83 70.36,377.25 71.32,377.66 72.28,378.07 73.24,378.48 74.20,378.89 75.16,379.30 76.12,379.71 77.09,380.11 78.05,380.52 79.01,380.92 79.97,381.32 80.93,381.73 81.89,382.13 82.85,382.53 83.81,382.93 84.78,383.32 85.74,383.72 86.70,384.11 87.66,384.51 88.62,384.90 89.58,385.29 90.54,385.68 91.50,386.07 92.47,386.45 93.43,386.84 94.39,387.22 95.35,387.60 97.27,388.37 99.19,389.13 101.12,389.88 103.04,390.64 104.96,391.39 106.88,392.14 108.81,392.89 110.73,393.64 112.65,394.38 114.58,395.12 116.50,395.86 118.42,396.60 120.34,397.33 122.27,398.07 124.19,398.79 126.11,399.52 128.03,400.24 129.96,400.97 131.88,401.68 133.80,402.40 135.72,403.11 137.65,403.82 139.57,404.52 141.49,405.23 143.41,405.93 145.34,406.62 147.26,407.32 149.18,408.01 151.10,408.69 153.03,409.37 154.95,410.05 156.87,410.73 158.79,411.40 160.72,412.07 162.64,412.73 164.56,413.39 166.48,414.05 168.41,414.70 170.33,415.35 172.25,416.00" fill="none" stroke="#6c6c6c" stroke-width="1.2" stroke-linejoin="round"/>
<polyline points="56.90,371.40 57.86,372.21 58.82,373.02 59.78,373.83 60.74,374.65 61.71,375.47 62.67,376.28 63.63,377.10 64.59,377.91 65.55,378.72 66.51,379.53 67.47,380.33 68.44,381.13 69.40,381.91 70.36,382.69 71.32,383.46 72.28,384.22 73.24,384.96 74.20,385.69 75.16,386.41 76.12,387.11 77.09,387.80 78.05,388.47 79.01,389.12 79.97,389.75 80.93,390.36 81.89,390.95 82.85,391.52 83.81,392.06 84.78,392.58 85.74,393.07 86.70,393.54 87.66,393.98 88.62,394.38 89.58,394.76 90.54,395.11 91.50,395.42 92.47,395.70 93.43,395.95 94.39,396.16 95.35,396.33 97.27,396.64 99.19,396.93 101.12,397.23 103.04,397.51 104.96,397.79 106.88,398.06 108.81,398.32 110.73,398.57 112.65,398.82 114.58,399.06 116.50,399.30 118.42,399.52 120.34,399.74 122.27,399.95 124.19,400.16 126.11,400.35 128.03,400.54 129.96,400.72 131.88,400.90 133.80,401.06 135.72,401.22 137.65,401.37 139.57,401.51 141.49,401.65 143.41,401.77 145.34,401.89 147.26,402.00 149.18,402.10 151.10,402.20 153.03,402.28 154.95,402.36 156.87,402.43 158.79,402.50 160.72,402.55 162.64,402.60 164.56,402.63 166.48,402.66 168.41,402.68 170.33,402.70 172.25,402.70" fill="none" stroke="#6c6c6c" stroke-width="1.2" stroke-linejoin="round"/>
<polyline points="56.90,371.40 57.86,372.41 58.82,373.43 59.78,374.46 60.74,375.49 61.71,376.52 62.67,377.56 63.63,378.59 64.59,379.63 65.55,380.66 66.51,381.69 67.47,382.71 68.44,383.72 69.40,384.73 70.36,385.72 71.32,386.70 72.28,387.66 73.24,388.61 74.20,389.53 75.16,390.44 76.12,391.33 77.09,392.19 78.05,393.03 79.01,393.84 79.97,394.62 80.93,395.37 81.89,396.09 82.85,396.78 83.81,397.43 84.78,398.04 85.74,398.62 86.70,399.15 87.66,399.65 88.62,400.10 89.58,400.50 90.54,400.86 91.50,401.16 92.47,401.42 93.43,401.62 94.39,401.77 95.35,401.87 97.27,402.00 99.19,402.13 101.12,402.25 103.04,402.37 104.96,402.49 106.88,402.60 108.81,402.71 110.73,402.81 112.65,402.91 114.58,403.01 116.50,403.10 118.42,403.19 120.34,403.28 122.27,403.36 124.19,403.44 126.11,403.52 128.03,403.59 129.96,403.66 131.88,403.72 133.80,403.78 135.72,403.84 137.65,403.90 139.57,403.95 141.49,404.00 143.41,404.04 145.34,404.09 147.26,404.12 149.18,404.16 151.10,404.19 153.03,404.22 154.95,404.25 156.87,404.27 158.79,404.30 160.72,404.31 162.64,404.33 164.56,404.34 166.48,404.35 168.41,404.36 170.33,404.36 172.25,404.36" fill="none" stroke="#6c6c6c" stroke-width="1.2" stroke-linejoin="round"/>
<polyline points="56.90,371.40 57.86,372.61 58.82,373.82 59.78,375.03 60.74,376.24 61.71,377.44 62.67,378.65 63.63,379.85 64.59,381.05 65.55,382.24 66.51,383.42 67.47,384.60 68.44,385.77 69.40,386.92 70.36,388.07 71.32,389.20 72.28,390.32 73.24,391.42 74.20,392.51 75.16,393.58 76.12,394.63 77.09,395.67 78.05,396.68 79.01,397.67 79.97,398.64 80.93,399.59 81.89,400.51 82.85,401.40 83.81,402.27 84.78,403.11 85.74,403.92 86.70,404.70 87.66,405.45 88.62,406.17 89.58,406.85 90.54,407.50 91.50,408.11 92.47,408.69 93.43,409.22 94.39,409.72 95.35,410.18 97.27,411.05 99.19,411.91 101.12,412.76 103.04,413.60 104.96,414.42 106.88,415.24 108.81,416.04 110.73,416.82 112.65,417.59 114.58,418.35 116.50,419.09 118.42,419.82 120.34,420.52 122.27,421.21 124.19,421.88 126.11,422.54 128.03,423.17 129.96,423.78 131.88,424.37 133.80,424.94 135.72,425.49 137.65,426.02 139.57,426.52 141.49,427.00 143.41,427.46 145.34,427.89 147.26,428.29 149.18,428.67 151.10,429.03 153.03,429.35 154.95,429.65 156.87,429.91 158.79,430.15 160.72,430.36 162.64,430.54 164.56,430.69 166.48,430.80 168.41,430.89 170.33,430.94 172.25,430.95" fill="none" stroke="#6c6c6c" stroke-width="1.2" stroke-linejoin="round"/>
<polyline points="56.90,371.40 57.86,371.75 58.82,372.10 59.78,372.46 60.74,372.81 61.71,373.16 62.67,373.51 63.63,373.86 64.59,374.20 65.55,374.55 66.51,374.90 67.47,375.24 68.44,375.59 69.40,375.93 70.36,376.28 71.32,376.62 72.28,376.96 73.24,377.30 74.20,377.65 75.16,377.98 76.12,378.32 77.09,378.66 78.05,379.00 79.01,379.33 79.97,379.67 80.93,380.00 81.89,380.33 82.85,380.66 83.81,380.99 84.78,381.32 85.74,381.64 86.70,381.97 87.66,382.29 88.62,382.62 89.58,382.94 90.54,383.26 91.50,383.58 92.47,383.89 93.43,384.21 94.39,384.52 95.35,384.83 97.27,385.46 99.19,386.08 101.12,386.70 103.04,387.31 104.96,387.93 106.88,388.54 108.81,389.15 110.73,389.76 112.65,390.36 114.58,390.96 116.50,391.56 118.42,392.16 120.34,392.76 122.27,393.35 124.19,393.94 126.11,394.53 128.03,395.12 129.96,395.70 131.88,396.28 133.80,396.85 135.72,397.43 137.65,398.00 139.57,398.57 141.49,399.13 143.41,399.69 145.34,400.25 147.26,400.80 149.18,401.36 151.10,401.90 153.03,402.45 154.95,402.99 156.87,403.53 158.79,404.06 160.72,404.59 162.64,405.11 164.56,405.64 166.48,406.16 168.41,406.67 170.33,407.18 172.25,407.69" fill="none" stroke="#1f4f8f" stroke-width="1.2" stroke-linejoin="round"/>
<polyline points="56.90,371.40 57.86,373.11 58.82,374.81 59.78,376.51 60.74,378.21 61.71,379.91 62.67,381.59 63.63,383.28 64.59,384.95 65.55,386.62 66.51,388.27 67.47,389.92 68.44,391.56 69.40,393.18 70.36,394.79 71.32,396.38 72.28,397.96 73.24,399.52 74.20,401.07 75.16,402.59 76.12,404.10 77.09,405.59 78.05,407.05 79.01,408.49 79.97,409.91 80.93,411.31 81.89,412.68 82.85,414.02 83.81,415.33 84.78,416.62 85.74,417.88 86.70,419.10 87.66,420.30 88.62,421.46 89.58,422.59 90.54,423.68 91.50,424.74 92.47,425.76 93.43,426.75 94.39,427.69 95.35,428.60 97.27,430.37 99.19,432.14 101.12,433.90 103.04,435.65 104.96,437.40 106.88,439.13 108.81,440.85 110.73,442.55 112.65,444.24 114.58,445.90 116.50,447.54 118.42,449.16 120.34,450.76 122.27,452.32 124.19,453.86 126.11,455.36 128.03,456.83 129.96,458.26 131.88,459.66 133.80,461.01 135.72,462.33 137.65,463.60 139.57,464.82 141.49,466.00 143.41,467.12 145.34,468.20 147.26,469.22 149.18,470.18 151.10,471.09 153.03,471.94 154.95,472.72 156.87,473.44 158.79,474.09 160.72,474.68 162.64,475.20 164.56,475.64 166.48,476.01 168.41,476.31 170.33,476.52 172.25,476.66" fill="none" stroke="#f39a1e" stroke-width="1.2" stroke-linejoin="round"/>
<polyline points="56.90,371.40 57.86,374.41 58.82,377.45 59.78,380.49 60.74,383.55 61.71,386.61 62.67,389.66 63.63,392.72 64.59,395.77 65.55,398.80 66.51,401.82 67.47,404.82 68.44,407.80 69.40,410.74 70.36,413.66 71.32,416.53 72.28,419.37 73.24,422.16 74.20,424.90 75.16,427.59 76.12,430.21 77.09,432.78 78.05,435.28 79.01,437.71 79.97,440.07 80.93,442.34 81.89,444.54 82.85,446.64 83.81,448.66 84.78,450.58 85.74,452.40 86.70,454.11 87.66,455.72 88.62,457.22 89.58,458.60 90.54,459.85 91.50,460.99 92.47,461.99 93.43,462.87 94.39,463.60 95.35,464.19 97.27,465.23 99.19,466.23 101.12,467.21 103.04,468.17 104.96,469.10 106.88,470.00 108.81,470.88 110.73,471.74 112.65,472.57 114.58,473.37 116.50,474.15 118.42,474.91 120.34,475.63 122.27,476.34 124.19,477.01 126.11,477.66 128.03,478.29 129.96,478.89 131.88,479.46 133.80,480.01 135.72,480.53 137.65,481.02 139.57,481.49 141.49,481.93 143.41,482.35 145.34,482.74 147.26,483.10 149.18,483.44 151.10,483.75 153.03,484.03 154.95,484.29 156.87,484.52 158.79,484.72 160.72,484.90 162.64,485.05 164.56,485.17 166.48,485.26 168.41,485.33 170.33,485.37 172.25,485.39" fill="none" stroke="#1b6b50" stroke-width="1.2" stroke-linejoin="round"/>
<polyline points="56.90,371.40 57.86,374.53 58.82,377.67 59.78,380.84 60.74,384.01 61.71,387.19 62.67,390.36 63.63,393.54 64.59,396.71 65.55,399.86 66.51,403.00 67.47,406.12 68.44,409.22 69.40,412.28 70.36,415.31 71.32,418.30 72.28,421.24 73.24,424.14 74.20,426.99 75.16,429.78 76.12,432.51 77.09,435.17 78.05,437.76 79.01,440.28 79.97,442.72 80.93,445.08 81.89,447.35 82.85,449.52 83.81,451.60 84.78,453.58 85.74,455.45 86.70,457.21 87.66,458.86 88.62,460.39 89.58,461.80 90.54,463.07 91.50,464.22 92.47,465.22 93.43,466.09 94.39,466.81 95.35,467.38 97.27,468.36 99.19,469.31 101.12,470.23 103.04,471.13 104.96,472.01 106.88,472.86 108.81,473.69 110.73,474.49 112.65,475.27 114.58,476.03 116.50,476.76 118.42,477.46 120.34,478.14 122.27,478.80 124.19,479.43 126.11,480.04 128.03,480.62 129.96,481.18 131.88,481.71 133.80,482.22 135.72,482.70 137.65,483.16 139.57,483.59 141.49,484.00 143.41,484.39 145.34,484.75 147.26,485.08 149.18,485.39 151.10,485.68 153.03,485.94 154.95,486.18 156.87,486.39 158.79,486.58 160.72,486.74 162.64,486.87 164.56,486.99 166.48,487.07 168.41,487.14 170.33,487.17 172.25,487.19" fill="none" stroke="#cc1238" stroke-width="1.2" stroke-linejoin="round"/>
<polyline points="56.90,371.40 57.86,376.54 58.82,381.59 59.78,386.53 60.74,391.38 61.71,396.12 62.67,400.75 63.63,405.29 64.59,409.71 65.55,414.04 66.51,418.25 67.47,422.36 68.44,426.36 69.40,430.25 70.36,434.03 71.32,437.69 72.28,441.25 73.24,444.69 74.20,448.02 75.16,451.23 76.12,454.33 77.09,457.31 78.05,460.17 79.01,462.91 79.97,465.54 80.93,468.04 81.89,470.42 82.85,472.68 83.81,474.82 84.78,476.83 85.74,478.72 86.70,480.48 87.66,482.11 88.62,483.62 89.58,485.00 90.54,486.24 91.50,487.36 92.47,488.35 93.43,489.20 94.39,489.92 95.35,490.51 97.27,491.51 99.19,492.44 101.12,493.30 103.04,494.09 104.96,494.82 106.88,495.48 108.81,496.08 110.73,496.62 112.65,497.11 114.58,497.54 116.50,497.92 118.42,498.26 120.34,498.54 122.27,498.78 124.19,498.98 126.11,499.13 128.03,499.25 129.96,499.34 131.88,499.39 133.80,499.41 135.72,499.40 137.65,499.36 139.57,499.31 141.49,499.23 143.41,499.13 145.34,499.01 147.26,498.88 149.18,498.73 151.10,498.58 153.03,498.42 154.95,498.25 156.87,498.08 158.79,497.91 160.72,497.74 162.64,497.57 164.56,497.41 166.48,497.26 168.41,497.12 170.33,496.99 172.25,496.88" fill="none" stroke="#38aee0" stroke-width="1.2" stroke-linejoin="round"/>
<polyline points="56.90,371.40 57.86,376.88 58.82,382.25 59.78,387.49 60.74,392.62 61.71,397.63 62.67,402.52 63.63,407.30 64.59,411.95 65.55,416.49 66.51,420.90 67.47,425.20 68.44,429.37 69.40,433.43 70.36,437.36 71.32,441.17 72.28,444.86 73.24,448.43 74.20,451.87 75.16,455.20 76.12,458.40 77.09,461.47 78.05,464.42 79.01,467.25 79.97,469.96 80.93,472.54 81.89,474.99 82.85,477.32 83.81,479.52 84.78,481.60 85.74,483.55 86.70,485.38 87.66,487.08 88.62,488.65 89.58,490.09 90.54,491.40 91.50,492.59 92.47,493.65 93.43,494.58 94.39,495.38 95.35,496.05 97.27,497.21 99.19,498.28 101.12,499.26 103.04,500.14 104.96,500.94 106.88,501.66 108.81,502.29 110.73,502.85 112.65,503.34 114.58,503.75 116.50,504.10 118.42,504.39 120.34,504.61 122.27,504.78 124.19,504.89 126.11,504.95 128.03,504.96 129.96,504.93 131.88,504.85 133.80,504.74 135.72,504.59 137.65,504.41 139.57,504.20 141.49,503.96 143.41,503.71 145.34,503.43 147.26,503.13 149.18,502.82 151.10,502.50 153.03,502.18 154.95,501.85 156.87,501.52 158.79,501.19 160.72,500.87 162.64,500.56 164.56,500.26 166.48,499.97 168.41,499.70 170.33,499.46 172.25,499.24" fill="none" stroke="#43a83f" stroke-width="1.2" stroke-linejoin="round"/>
<circle cx="95.35" cy="379.29" r="2.90" fill="#6c6c6c" stroke="#6c6c6c" stroke-width="0.2"/>
<circle cx="172.25" cy="383.17" r="2.90" fill="#6c6c6c" stroke="#6c6c6c" stroke-width="0.2"/>
<circle cx="95.35" cy="384.56" r="2.90" fill="#6c6c6c" stroke="#6c6c6c" stroke-width="0.2"/>
<circle cx="172.25" cy="392.73" r="2.90" fill="#6c6c6c" stroke="#6c6c6c" stroke-width="0.2"/>
<circle cx="95.35" cy="387.60" r="2.90" fill="#6c6c6c" stroke="#6c6c6c" stroke-width="0.2"/>
<circle cx="172.25" cy="392.73" r="2.90" fill="#6c6c6c" stroke="#6c6c6c" stroke-width="0.2"/>
<circle cx="95.35" cy="387.60" r="2.90" fill="#6c6c6c" stroke="#6c6c6c" stroke-width="0.2"/>
<circle cx="172.25" cy="416.00" r="2.90" fill="#6c6c6c" stroke="#6c6c6c" stroke-width="0.2"/>
<circle cx="95.35" cy="396.33" r="2.90" fill="#6c6c6c" stroke="#6c6c6c" stroke-width="0.2"/>
<circle cx="172.25" cy="402.70" r="2.90" fill="#6c6c6c" stroke="#6c6c6c" stroke-width="0.2"/>
<circle cx="95.35" cy="401.87" r="2.90" fill="#6c6c6c" stroke="#6c6c6c" stroke-width="0.2"/>
<circle cx="172.25" cy="404.36" r="2.90" fill="#6c6c6c" stroke="#6c6c6c" stroke-width="0.2"/>
<circle cx="95.35" cy="410.18" r="2.90" fill="#6c6c6c" stroke="#6c6c6c" stroke-width="0.2"/>
<circle cx="172.25" cy="430.95" r="2.90" fill="#6c6c6c" stroke="#6c6c6c" stroke-width="0.2"/>
<circle cx="95.35" cy="384.83" r="2.90" fill="#1f4f8f" stroke="#1f4f8f" stroke-width="0.2"/>
<circle cx="172.25" cy="407.69" r="2.90" fill="#1f4f8f" stroke="#1f4f8f" stroke-width="0.2"/>
<circle cx="95.35" cy="428.60" r="2.90" fill="#f39a1e" stroke="#f39a1e" stroke-width="0.2"/>
<circle cx="172.25" cy="476.66" r="2.90" fill="#f39a1e" stroke="#f39a1e" stroke-width="0.2"/>
<circle cx="95.35" cy="464.19" r="2.90" fill="#1b6b50" stroke="#1b6b50" stroke-width="0.2"/>
<circle cx="172.25" cy="485.39" r="2.90" fill="#1b6b50" stroke="#1b6b50" stroke-width="0.2"/>
<circle cx="95.35" cy="467.38" r="2.90" fill="#cc1238" stroke="#cc1238" stroke-width="0.2"/>
<circle cx="172.25" cy="487.19" r="2.90" fill="#cc1238" stroke="#cc1238" stroke-width="0.2"/>
<circle cx="95.35" cy="490.51" r="2.90" fill="#38aee0" stroke="#38aee0" stroke-width="0.2"/>
<circle cx="172.25" cy="496.88" r="2.90" fill="#38aee0" stroke="#38aee0" stroke-width="0.2"/>
<circle cx="95.35" cy="496.05" r="2.90" fill="#43a83f" stroke="#43a83f" stroke-width="0.2"/>
<circle cx="172.25" cy="499.24" r="2.90" fill="#43a83f" stroke="#43a83f" stroke-width="0.2"/>
<polygon points="56.90,367.65 60.45,371.40 56.90,375.15 53.35,371.40" fill="#707070" stroke="#707070" stroke-width="0.3" stroke-linejoin="round"/>
<text x="179.00" y="378.40" font-size="9.5" fill="#222" letter-spacing="0.18" >Ala265</text>
<text x="179.00" y="385.60" font-size="9.5" fill="#222" letter-spacing="0.18" >Ala230</text>
<text x="179.00" y="393.00" font-size="9.5" fill="#222" letter-spacing="0.18" >Ala264</text>
<text x="179.00" y="400.70" font-size="9.5" fill="#222" letter-spacing="0.18" >Ala551</text>
<text x="179.00" y="408.10" font-size="9.5" fill="#1f4f8f" >WT</text>
<text x="179.00" y="415.80" font-size="9.5" fill="#222" letter-spacing="0.18" >Ala343</text>
<text x="179.00" y="423.00" font-size="9.5" fill="#222" letter-spacing="0.18" >Ala47</text>
<text x="179.00" y="436.90" font-size="9.5" fill="#222" letter-spacing="0.18" >Ala266</text>
<text x="179.00" y="477.60" font-size="9.3" fill="#f2a03a" textLength="22.0" lengthAdjust="spacingAndGlyphs" >ΔFXII</text>
<text x="179.00" y="485.90" font-size="9.5" fill="#1b6b50" letter-spacing="0.18" >Ala346</text>
<text x="179.00" y="493.50" font-size="9.5" fill="#cc1238" letter-spacing="0.18" >Ala36</text>
<text x="179.00" y="501.50" font-size="9.5" fill="#47a0d6" letter-spacing="0.18" >Ala225</text>
<text x="179.00" y="509.10" font-size="9.5" fill="#46a348" letter-spacing="0.18" >Lys253</text>
<defs>
<filter id="bl1" x="-30%" y="-100%" width="160%" height="300%"><feGaussianBlur stdDeviation="0.7 0.8"/></filter>
<filter id="bl2" x="-30%" y="-100%" width="160%" height="300%"><feGaussianBlur stdDeviation="1.0 1.4"/></filter>
<filter id="bl3" x="-30%" y="-30%" width="160%" height="160%"><feGaussianBlur stdDeviation="1.0 2.5"/></filter>
<linearGradient id="db" x1="0" x2="1" y1="0" y2="0"><stop offset="0" stop-color="#000" stop-opacity="1"/><stop offset="0.2" stop-color="#000" stop-opacity="1"/><stop offset="0.5" stop-color="#000" stop-opacity="0.75"/><stop offset="0.8" stop-color="#000" stop-opacity="1"/><stop offset="1" stop-color="#000" stop-opacity="1"/></linearGradient>
<linearGradient id="db2" x1="0" x2="1" y1="0" y2="0"><stop offset="0" stop-color="#000" stop-opacity="1"/><stop offset="0.25" stop-color="#000" stop-opacity="1"/><stop offset="0.5" stop-color="#000" stop-opacity="0.85"/><stop offset="0.75" stop-color="#000" stop-opacity="1"/><stop offset="1" stop-color="#000" stop-opacity="1"/></linearGradient>
</defs>
<rect x="312.4" y="214.3" width="139.5" height="106.39999999999998" fill="#fdfdfd"/>
<rect x="314.10" y="217.30" width="13.90" height="100.40" fill="#000" opacity="0.020" filter="url(#bl3)"/>
<rect x="313.25" y="248.70" width="15.60" height="6.20" rx="2.00" fill="#000" opacity="1.000" filter="url(#bl1)"/>
<rect x="313.75" y="249.70" width="14.60" height="4.20" rx="1.40" fill="#000" opacity="1.000" filter="url(#bl1)"/>
<rect x="313.25" y="267.80" width="15.60" height="6.00" rx="2.00" fill="#000" opacity="0.130" filter="url(#bl2)"/>
<rect x="313.25" y="302.00" width="15.60" height="7.00" rx="2.00" fill="#000" opacity="0.050" filter="url(#bl2)"/>
<rect x="332.10" y="217.30" width="13.50" height="100.40" fill="#000" opacity="0.045" filter="url(#bl3)"/>
<rect x="332.60" y="258.00" width="12.50" height="10.00" fill="#000" opacity="0.046" filter="url(#bl3)"/>
<rect x="331.25" y="250.00" width="15.20" height="6.00" rx="2.00" fill="#000" opacity="1.000" filter="url(#bl1)"/>
<rect x="331.75" y="251.00" width="14.20" height="4.00" rx="1.33" fill="#000" opacity="1.000" filter="url(#bl1)"/>
<rect x="331.25" y="267.80" width="15.20" height="6.00" rx="2.00" fill="#000" opacity="0.380" filter="url(#bl2)"/>
<rect x="331.25" y="302.00" width="15.20" height="7.00" rx="2.00" fill="#000" opacity="0.090" filter="url(#bl2)"/>
<rect x="349.70" y="217.30" width="13.90" height="100.40" fill="#000" opacity="0.035" filter="url(#bl3)"/>
<rect x="350.20" y="258.00" width="12.90" height="10.00" fill="#000" opacity="0.038" filter="url(#bl3)"/>
<rect x="348.85" y="250.00" width="15.60" height="6.00" rx="2.00" fill="#000" opacity="1.000" filter="url(#bl1)"/>
<rect x="349.35" y="251.00" width="14.60" height="4.00" rx="1.33" fill="#000" opacity="1.000" filter="url(#bl1)"/>
<rect x="348.85" y="267.80" width="15.60" height="6.00" rx="2.00" fill="#000" opacity="0.320" filter="url(#bl2)"/>
<rect x="348.85" y="302.00" width="15.60" height="7.00" rx="2.00" fill="#000" opacity="0.090" filter="url(#bl2)"/>
<rect x="368.20" y="217.30" width="13.00" height="100.40" fill="#000" opacity="0.045" filter="url(#bl3)"/>
<rect x="368.70" y="258.00" width="12.00" height="10.00" fill="#000" opacity="0.066" filter="url(#bl3)"/>
<rect x="367.35" y="251.20" width="14.70" height="5.60" rx="1.87" fill="#000" opacity="1.000" filter="url(#bl1)"/>
<rect x="367.85" y="252.20" width="13.70" height="3.60" rx="1.20" fill="#000" opacity="1.000" filter="url(#bl1)"/>
<rect x="367.35" y="267.80" width="14.70" height="6.00" rx="2.00" fill="#000" opacity="0.550" filter="url(#bl2)"/>
<rect x="367.35" y="302.00" width="14.70" height="7.00" rx="2.00" fill="#000" opacity="0.120" filter="url(#bl2)"/>
<rect x="386.30" y="217.30" width="13.10" height="100.40" fill="#000" opacity="0.015" filter="url(#bl3)"/>
<rect x="385.45" y="249.10" width="14.80" height="6.40" rx="2.00" fill="#000" opacity="1.000" filter="url(#bl1)"/>
<rect x="385.95" y="250.10" width="13.80" height="4.40" rx="1.47" fill="#000" opacity="1.000" filter="url(#bl1)"/>
<rect x="385.45" y="267.80" width="14.80" height="6.00" rx="2.00" fill="#000" opacity="0.040" filter="url(#bl2)"/>
<rect x="403.60" y="217.30" width="12.00" height="100.40" fill="#000" opacity="0.060" filter="url(#bl3)"/>
<rect x="404.10" y="258.00" width="11.00" height="10.00" fill="#000" opacity="0.120" filter="url(#bl3)"/>
<rect x="404.10" y="285.00" width="11.00" height="15.00" fill="#000" opacity="0.060" filter="url(#bl3)"/>
<rect x="402.75" y="250.30" width="13.70" height="3.40" rx="1.13" fill="#000" opacity="0.850" filter="url(#bl1)"/>
<rect x="402.85" y="268.10" width="13.50" height="6.20" rx="2.48" fill="url(#db2)" filter="url(#bl1)"/>
<rect x="402.85" y="301.40" width="13.50" height="6.20" rx="2.48" fill="url(#db)" filter="url(#bl1)"/>
<rect x="419.70" y="217.30" width="12.50" height="100.40" fill="#000" opacity="0.060" filter="url(#bl3)"/>
<rect x="420.20" y="258.00" width="11.50" height="10.00" fill="#000" opacity="0.120" filter="url(#bl3)"/>
<rect x="420.20" y="285.00" width="11.50" height="15.00" fill="#000" opacity="0.060" filter="url(#bl3)"/>
<rect x="418.85" y="250.40" width="14.20" height="3.20" rx="1.07" fill="#000" opacity="0.380" filter="url(#bl1)"/>
<rect x="418.95" y="268.10" width="14.00" height="6.20" rx="2.48" fill="url(#db2)" filter="url(#bl1)"/>
<rect x="418.95" y="301.40" width="14.00" height="6.20" rx="2.48" fill="url(#db)" filter="url(#bl1)"/>
<rect x="436.50" y="217.30" width="12.30" height="100.40" fill="#000" opacity="0.060" filter="url(#bl3)"/>
<rect x="437.00" y="258.00" width="11.30" height="10.00" fill="#000" opacity="0.120" filter="url(#bl3)"/>
<rect x="437.00" y="285.00" width="11.30" height="15.00" fill="#000" opacity="0.060" filter="url(#bl3)"/>
<rect x="435.65" y="250.40" width="14.00" height="3.20" rx="1.07" fill="#000" opacity="0.320" filter="url(#bl1)"/>
<rect x="435.75" y="268.10" width="13.80" height="6.20" rx="2.48" fill="url(#db2)" filter="url(#bl1)"/>
<rect x="435.75" y="301.40" width="13.80" height="6.20" rx="2.48" fill="url(#db)" filter="url(#bl1)"/>
<line x1="383.70" y1="215.30" x2="383.70" y2="319.70" stroke="#d0d0d0" stroke-width="1.4" />
<rect x="312.4" y="214.3" width="139.5" height="106.39999999999998" fill="none" stroke="#2a2a2a" stroke-width="1.3"/>
<text x="308.60" y="222.80" font-size="9.8" fill="#222" text-anchor="end" >250</text>
<text x="308.60" y="232.70" font-size="9.8" fill="#222" text-anchor="end" >150</text>
<text x="308.60" y="244.30" font-size="9.8" fill="#222" text-anchor="end" >100</text>
<text x="308.60" y="254.30" font-size="9.8" fill="#222" text-anchor="end" >75</text>
<text x="308.60" y="273.70" font-size="9.8" fill="#222" text-anchor="end" >50</text>
<text x="308.60" y="291.50" font-size="9.8" fill="#222" text-anchor="end" >37</text>
<text x="308.60" y="316.00" font-size="9.8" fill="#222" text-anchor="end" >25</text>
<text x="348.60" y="193.60" font-size="9.5" fill="#222" text-anchor="middle" >WT</text>
<text x="417.50" y="194.10" font-size="9.5" fill="#222" letter-spacing="0.18" text-anchor="middle" >Ala346</text>
<text x="323.20" y="208.40" font-size="9.8" fill="#222" text-anchor="middle" >0</text>
<text x="336.00" y="208.40" font-size="9.8" fill="#222" text-anchor="middle" >5</text>
<text x="352.90" y="208.40" font-size="9.8" fill="#222" text-anchor="middle" >15</text>
<text x="372.50" y="208.40" font-size="9.8" fill="#222" text-anchor="middle" >45</text>
<text x="392.20" y="208.40" font-size="9.8" fill="#222" text-anchor="middle" >0</text>
<text x="405.70" y="208.40" font-size="9.8" fill="#222" text-anchor="middle" >5</text>
<text x="423.40" y="208.40" font-size="9.8" fill="#222" text-anchor="middle" >15</text>
<text x="440.20" y="208.40" font-size="9.8" fill="#222" text-anchor="middle" >45</text>
<line x1="452.60" y1="249.20" x2="456.60" y2="249.20" stroke="#222" stroke-width="1.0" />
<polygon points="456.60,249.20 461.20,247.50 461.20,250.90" fill="#fff" stroke="#222" stroke-width="0.9"/>
<text x="464.60" y="252.90" font-size="9.6" fill="#222" >Z</text>
<line x1="452.60" y1="271.20" x2="456.60" y2="271.20" stroke="#111" stroke-width="1.2" />
<polygon points="455.10,271.20 462.60,269.10 462.60,273.30" fill="#111"/>
<text x="465.20" y="274.70" font-size="9.6" fill="#222" >HC</text>
<line x1="452.60" y1="302.80" x2="456.60" y2="302.80" stroke="#111" stroke-width="1.2" />
<polygon points="455.10,302.80 462.60,300.70 462.60,304.90" fill="#111"/>
<text x="465.20" y="306.50" font-size="9.6" fill="#222" >LC</text>
<text x="382.10" y="334.30" font-size="11.2" fill="#1e1e1e" text-anchor="middle" textLength="39.0" lengthAdjust="spacingAndGlyphs" stroke="#1e1e1e" stroke-width="0.28">Time (min)</text>
<rect x="283.0" y="391.4" width="66.39999999999998" height="106.0" fill="#fdfdfd"/>
<rect x="349.4" y="391.4" width="67.80000000000001" height="106.0" fill="#fdfdfd"/>
<rect x="417.2" y="391.4" width="65.0" height="106.0" fill="#fdfdfd"/>
<rect x="287.40" y="394.40" width="11.70" height="100.00" fill="#000" opacity="0.008" filter="url(#bl3)"/>
<rect x="286.55" y="419.90" width="13.40" height="7.00" rx="2.00" fill="#000" opacity="1.000" filter="url(#bl1)"/>
<rect x="287.05" y="420.90" width="12.40" height="5.00" rx="1.67" fill="#000" opacity="1.000" filter="url(#bl1)"/>
<rect x="286.55" y="443.55" width="13.40" height="5.50" rx="1.83" fill="#000" opacity="0.045" filter="url(#bl2)"/>
<rect x="286.55" y="480.60" width="13.40" height="6.00" rx="2.00" fill="#000" opacity="0.020" filter="url(#bl2)"/>
<rect x="302.90" y="394.40" width="12.00" height="100.00" fill="#000" opacity="0.008" filter="url(#bl3)"/>
<rect x="302.05" y="420.00" width="13.70" height="7.00" rx="2.00" fill="#000" opacity="1.000" filter="url(#bl1)"/>
<rect x="302.55" y="421.00" width="12.70" height="5.00" rx="1.67" fill="#000" opacity="1.000" filter="url(#bl1)"/>
<rect x="302.05" y="443.55" width="13.70" height="5.50" rx="1.83" fill="#000" opacity="0.040" filter="url(#bl2)"/>
<rect x="302.05" y="480.60" width="13.70" height="6.00" rx="2.00" fill="#000" opacity="0.030" filter="url(#bl2)"/>
<rect x="318.70" y="394.40" width="12.50" height="100.00" fill="#000" opacity="0.008" filter="url(#bl3)"/>
<rect x="317.85" y="420.30" width="14.20" height="7.00" rx="2.00" fill="#000" opacity="1.000" filter="url(#bl1)"/>
<rect x="318.35" y="421.30" width="13.20" height="5.00" rx="1.67" fill="#000" opacity="1.000" filter="url(#bl1)"/>
<rect x="317.85" y="443.55" width="14.20" height="5.50" rx="1.83" fill="#000" opacity="0.050" filter="url(#bl2)"/>
<rect x="317.85" y="480.60" width="14.20" height="6.00" rx="2.00" fill="#000" opacity="0.050" filter="url(#bl2)"/>
<rect x="334.60" y="394.40" width="12.00" height="100.00" fill="#000" opacity="0.008" filter="url(#bl3)"/>
<rect x="333.75" y="421.40" width="13.70" height="6.60" rx="2.00" fill="#000" opacity="1.000" filter="url(#bl1)"/>
<rect x="334.25" y="422.40" width="12.70" height="4.60" rx="1.53" fill="#000" opacity="1.000" filter="url(#bl1)"/>
<rect x="333.75" y="443.55" width="13.70" height="5.50" rx="1.83" fill="#000" opacity="0.060" filter="url(#bl2)"/>
<rect x="333.75" y="480.60" width="13.70" height="6.00" rx="2.00" fill="#000" opacity="0.100" filter="url(#bl2)"/>
<rect x="352.50" y="394.40" width="11.30" height="100.00" fill="#000" opacity="0.008" filter="url(#bl3)"/>
<rect x="351.65" y="420.40" width="13.00" height="6.00" rx="2.00" fill="#000" opacity="1.000" filter="url(#bl1)"/>
<rect x="352.15" y="421.40" width="12.00" height="4.00" rx="1.33" fill="#000" opacity="1.000" filter="url(#bl1)"/>
<rect x="351.65" y="443.55" width="13.00" height="5.50" rx="1.83" fill="#000" opacity="0.300" filter="url(#bl2)"/>
<rect x="351.65" y="480.60" width="13.00" height="6.00" rx="2.00" fill="#000" opacity="0.070" filter="url(#bl2)"/>
<rect x="368.00" y="394.40" width="12.10" height="100.00" fill="#000" opacity="0.008" filter="url(#bl3)"/>
<rect x="367.15" y="421.00" width="13.80" height="5.00" rx="1.67" fill="#000" opacity="0.970" filter="url(#bl1)"/>
<rect x="368.50" y="432.00" width="11.10" height="11.00" fill="#000" opacity="0.032" filter="url(#bl3)"/>
<rect x="367.15" y="443.30" width="13.80" height="6.00" rx="2.00" fill="#000" opacity="0.900" filter="url(#bl1)"/>
<rect x="367.15" y="480.60" width="13.80" height="6.00" rx="2.00" fill="#000" opacity="0.120" filter="url(#bl2)"/>
<rect x="384.30" y="394.40" width="12.10" height="100.00" fill="#000" opacity="0.008" filter="url(#bl3)"/>
<rect x="383.45" y="421.30" width="13.80" height="4.60" rx="1.53" fill="#000" opacity="0.620" filter="url(#bl1)"/>
<rect x="384.80" y="432.00" width="11.10" height="11.00" fill="#000" opacity="0.035" filter="url(#bl3)"/>
<rect x="383.45" y="443.30" width="13.80" height="6.00" rx="2.00" fill="#000" opacity="1.000" filter="url(#bl1)"/>
<rect x="383.95" y="444.30" width="12.80" height="4.00" rx="1.33" fill="#000" opacity="1.000" filter="url(#bl1)"/>
<rect x="383.45" y="480.60" width="13.80" height="6.00" rx="2.00" fill="#000" opacity="0.120" filter="url(#bl2)"/>
<rect x="400.60" y="394.40" width="12.90" height="100.00" fill="#000" opacity="0.008" filter="url(#bl3)"/>
<rect x="399.75" y="421.80" width="14.60" height="4.00" rx="1.33" fill="#000" opacity="0.260" filter="url(#bl1)"/>
<rect x="401.10" y="432.00" width="11.90" height="11.00" fill="#000" opacity="0.033" filter="url(#bl3)"/>
<rect x="399.75" y="443.30" width="14.60" height="6.00" rx="2.00" fill="#000" opacity="0.950" filter="url(#bl1)"/>
<rect x="399.75" y="480.60" width="14.60" height="6.00" rx="2.00" fill="#000" opacity="0.140" filter="url(#bl2)"/>
<rect x="420.70" y="394.40" width="12.00" height="100.00" fill="#000" opacity="0.008" filter="url(#bl3)"/>
<rect x="419.85" y="421.60" width="13.70" height="6.40" rx="2.00" fill="#000" opacity="1.000" filter="url(#bl1)"/>
<rect x="420.35" y="422.60" width="12.70" height="4.40" rx="1.47" fill="#000" opacity="1.000" filter="url(#bl1)"/>
<rect x="436.50" y="394.40" width="11.50" height="100.00" fill="#000" opacity="0.008" filter="url(#bl3)"/>
<rect x="435.65" y="421.80" width="13.20" height="6.40" rx="2.00" fill="#000" opacity="1.000" filter="url(#bl1)"/>
<rect x="436.15" y="422.80" width="12.20" height="4.40" rx="1.47" fill="#000" opacity="1.000" filter="url(#bl1)"/>
<rect x="435.65" y="443.55" width="13.20" height="5.50" rx="1.83" fill="#000" opacity="0.050" filter="url(#bl2)"/>
<rect x="435.65" y="480.60" width="13.20" height="6.00" rx="2.00" fill="#000" opacity="0.015" filter="url(#bl2)"/>
<rect x="451.60" y="394.40" width="12.10" height="100.00" fill="#000" opacity="0.008" filter="url(#bl3)"/>
<rect x="450.75" y="421.70" width="13.80" height="6.20" rx="2.00" fill="#000" opacity="1.000" filter="url(#bl1)"/>
<rect x="451.25" y="422.70" width="12.80" height="4.20" rx="1.40" fill="#000" opacity="1.000" filter="url(#bl1)"/>
<rect x="450.75" y="443.55" width="13.80" height="5.50" rx="1.83" fill="#000" opacity="0.200" filter="url(#bl2)"/>
<rect x="450.75" y="480.60" width="13.80" height="6.00" rx="2.00" fill="#000" opacity="0.030" filter="url(#bl2)"/>
<rect x="467.50" y="394.40" width="12.00" height="100.00" fill="#000" opacity="0.008" filter="url(#bl3)"/>
<rect x="466.65" y="421.80" width="13.70" height="5.40" rx="1.80" fill="#000" opacity="0.970" filter="url(#bl1)"/>
<rect x="468.00" y="432.00" width="11.00" height="11.00" fill="#000" opacity="0.018" filter="url(#bl3)"/>
<rect x="466.65" y="443.55" width="13.70" height="5.50" rx="1.83" fill="#000" opacity="0.500" filter="url(#bl2)"/>
<rect x="466.65" y="480.60" width="13.70" height="6.00" rx="2.00" fill="#000" opacity="0.070" filter="url(#bl2)"/>
<rect x="283.0" y="391.4" width="66.39999999999998" height="106.0" fill="none" stroke="#2a2a2a" stroke-width="1.4"/>
<rect x="349.4" y="391.4" width="67.80000000000001" height="106.0" fill="none" stroke="#2a2a2a" stroke-width="1.4"/>
<rect x="417.2" y="391.4" width="65.0" height="106.0" fill="none" stroke="#2a2a2a" stroke-width="1.4"/>
<line x1="349.40" y1="391.40" x2="349.40" y2="497.40" stroke="#333" stroke-width="2.2" />
<line x1="417.20" y1="391.40" x2="417.20" y2="497.40" stroke="#222" stroke-width="1.8" />
<text x="276.00" y="400.80" font-size="9.8" fill="#222" text-anchor="end" >250</text>
<line x1="278.60" y1="397.30" x2="283.30" y2="397.30" stroke="#222" stroke-width="1.1" />
<text x="276.00" y="411.00" font-size="9.8" fill="#222" text-anchor="end" >150</text>
<line x1="278.60" y1="407.50" x2="283.30" y2="407.50" stroke="#222" stroke-width="1.1" />
<text x="276.00" y="421.20" font-size="9.8" fill="#222" text-anchor="end" >100</text>
<line x1="278.60" y1="417.70" x2="283.30" y2="417.70" stroke="#222" stroke-width="1.1" />
<text x="276.00" y="431.20" font-size="9.8" fill="#222" text-anchor="end" >75</text>
<line x1="278.60" y1="427.70" x2="283.30" y2="427.70" stroke="#222" stroke-width="1.1" />
<text x="276.00" y="452.30" font-size="9.8" fill="#222" text-anchor="end" >50</text>
<line x1="278.60" y1="448.80" x2="283.30" y2="448.80" stroke="#222" stroke-width="1.1" />
<text x="276.00" y="471.20" font-size="9.8" fill="#222" text-anchor="end" >37</text>
<line x1="278.60" y1="467.70" x2="283.30" y2="467.70" stroke="#222" stroke-width="1.1" />
<text x="276.00" y="495.40" font-size="9.8" fill="#222" text-anchor="end" >25</text>
<line x1="278.60" y1="491.90" x2="283.30" y2="491.90" stroke="#222" stroke-width="1.1" />
<text x="315.70" y="371.40" font-size="9.5" fill="#222" letter-spacing="0.18" text-anchor="middle" >Ala544</text>
<text x="383.50" y="370.90" font-size="9.5" fill="#222" letter-spacing="0.18" text-anchor="middle" >Ala268,544</text>
<text x="450.20" y="370.90" font-size="9.5" fill="#222" letter-spacing="0.18" text-anchor="middle" >Ala502,544</text>
<text x="291.70" y="385.80" font-size="9.8" fill="#222" text-anchor="middle" >0</text>
<text x="308.00" y="385.80" font-size="9.8" fill="#222" text-anchor="middle" >5</text>
<text x="324.80" y="385.80" font-size="9.8" fill="#222" text-anchor="middle" >15</text>
<text x="340.20" y="385.80" font-size="9.8" fill="#222" text-anchor="middle" >45</text>
<text x="364.20" y="385.80" font-size="9.8" fill="#222" text-anchor="middle" >0</text>
<text x="380.00" y="385.80" font-size="9.8" fill="#222" text-anchor="middle" >5</text>
<text x="392.70" y="385.80" font-size="9.8" fill="#222" text-anchor="middle" >15</text>
<text x="407.00" y="385.80" font-size="9.8" fill="#222" text-anchor="middle" >45</text>
<text x="424.40" y="385.80" font-size="9.8" fill="#222" text-anchor="middle" >0</text>
<text x="441.70" y="385.80" font-size="9.8" fill="#222" text-anchor="middle" >5</text>
<text x="457.10" y="385.80" font-size="9.8" fill="#222" text-anchor="middle" >15</text>
<text x="473.10" y="385.80" font-size="9.8" fill="#222" text-anchor="middle" >45</text>
<line x1="483.30" y1="425.40" x2="487.30" y2="425.40" stroke="#222" stroke-width="1.0" />
<polygon points="487.30,425.40 491.90,423.70 491.90,427.10" fill="#fff" stroke="#222" stroke-width="0.9"/>
<text x="496.60" y="429.20" font-size="9.6" fill="#222" >Z</text>
<line x1="483.30" y1="446.50" x2="487.30" y2="446.50" stroke="#111" stroke-width="1.2" />
<polygon points="485.80,446.50 493.30,444.40 493.30,448.60" fill="#111"/>
<text x="497.30" y="450.00" font-size="9.6" fill="#222" >HC</text>
<line x1="483.30" y1="483.90" x2="487.30" y2="483.90" stroke="#111" stroke-width="1.2" />
<polygon points="485.80,483.90 493.30,481.80 493.30,486.00" fill="#111"/>
<text x="497.30" y="487.40" font-size="9.6" fill="#222" >LC</text>
<text x="383.60" y="511.30" font-size="11.2" fill="#1e1e1e" text-anchor="middle" textLength="38.8" lengthAdjust="spacingAndGlyphs" stroke="#1e1e1e" stroke-width="0.28">Time (min)</text>
<rect x="0.5" y="0.5" width="519" height="552" fill="none" stroke="#3c3c3c" stroke-width="1.2"/></svg></body></html>
